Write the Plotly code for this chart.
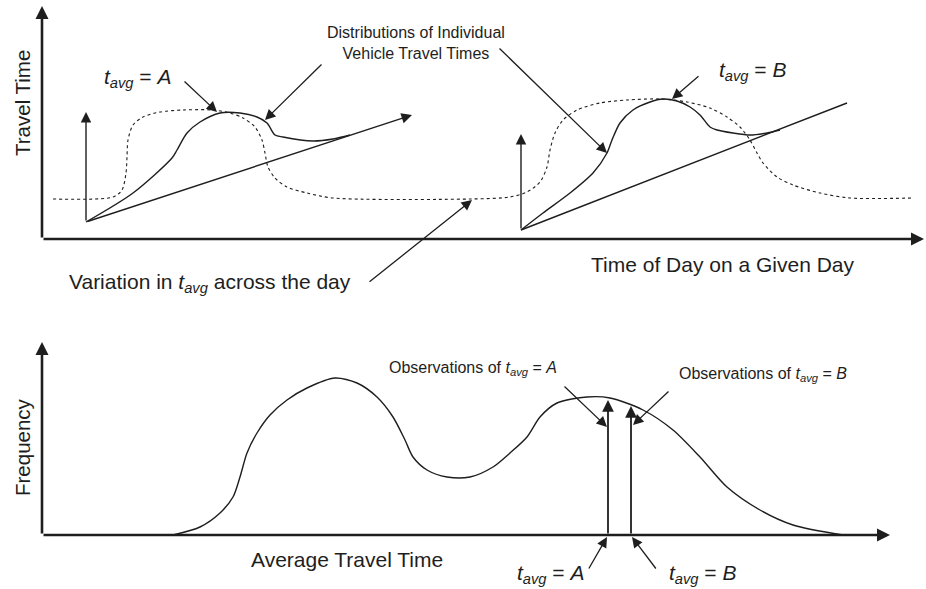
import plotly.graph_objects as go

# Everything is placed in page units: x runs 0..926 left to right, y runs 0..589 top to bottom.
INK = "#1e1e1e"
FONT = "Liberation Sans, Arial, sans-serif"

# ---- top panel: travel time across the day ----
# dotted curve: variation in t_avg across the day
tavg_day_x = [53, 113, 122, 126, 127, 128, 133, 143, 160, 183, 213, 230, 243, 255, 262, 265, 268, 275, 287,
              307, 333, 470, 510, 527, 540, 547, 550, 555, 563, 577, 600, 627, 660, 687, 710, 727, 740, 750,
              757, 763, 777, 793, 820, 850, 912]
tavg_day_y = [199, 197, 190, 173, 157, 140, 125, 117, 112, 110, 110, 113, 118, 127, 140, 153, 167, 178, 187,
              193, 198, 199, 197, 192, 182, 167, 150, 133, 120, 110, 103, 100, 99, 102, 108, 117, 127, 140,
              153, 163, 177, 185, 193, 198, 198]

# distribution of individual travel times at t_avg = A
dist_a_x = [86, 133, 172, 177, 187, 200, 220, 240, 257, 267, 275, 283, 313, 333, 350]
dist_a_y = [222, 193, 158, 150, 133, 122, 113, 113, 117, 123, 135, 137, 141, 139, 135]
dist_a_origin = (86, 222)
dist_a_up = (86, 112)
dist_a_axis = (412, 115)

# distribution of individual travel times at t_avg = B
dist_b_x = [521, 543, 570, 593, 607, 612, 620, 633, 650, 663, 677, 690, 700, 710, 717, 733, 750, 767, 780]
dist_b_y = [230, 213, 193, 173, 153, 140, 123, 110, 102, 99, 101, 107, 115, 127, 130, 133, 135, 133, 130]
dist_b_origin = (521, 230)
dist_b_up = (521, 134)
dist_b_axis = (847, 103)

# ---- bottom panel: frequency of average travel times ----
freq_x = [173, 200, 220, 233, 240, 247, 257, 270, 287, 307, 335, 357, 377, 393, 405, 413, 427, 447, 470,
          493, 510, 527, 540, 557, 587, 610, 643, 673, 700, 727, 760, 793, 843]
freq_y = [535, 527, 513, 497, 477, 453, 433, 415, 400, 388, 378, 383, 397, 417, 440, 457, 470, 477, 477,
          467, 453, 437, 417, 403, 397, 398, 410, 430, 457, 487, 510, 525, 535]
obs_a_x, obs_a_top = 608, 400
obs_b_x, obs_b_top = 631, 406

fig = go.Figure()

fig.add_trace(go.Scatter(x=tavg_day_x, y=tavg_day_y, mode="lines",
                         line=dict(color=INK, width=1.1, dash="dot", shape="spline", smoothing=0.8)))
for xs, ys in [(dist_a_x, dist_a_y), (dist_b_x, dist_b_y)]:
    fig.add_trace(go.Scatter(x=xs, y=ys, mode="lines",
                             line=dict(color=INK, width=1.4, shape="spline", smoothing=0.8)))
fig.add_trace(go.Scatter(x=[dist_b_origin[0], dist_b_axis[0]], y=[dist_b_origin[1], dist_b_axis[1]],
                         mode="lines", line=dict(color=INK, width=1.4)))
fig.add_trace(go.Scatter(x=freq_x, y=freq_y, mode="lines",
                         line=dict(color=INK, width=1.4, shape="spline", smoothing=0.8)))


def arrow(start, end, width=1.3, size=1.6, head=2):
    fig.add_annotation(x=end[0], y=end[1], ax=start[0], ay=start[1],
                       xref="x", yref="y", axref="x", ayref="y", text="",
                       showarrow=True, arrowhead=head, arrowsize=size, arrowwidth=width,
                       arrowcolor=INK, standoff=0)


# main axes
arrow((42, 239), (42, 6), width=2.6, size=1.0)
arrow((42, 239), (924, 239), width=2.6, size=1.0)
arrow((42, 535), (42, 342), width=2.6, size=1.0)
arrow((42, 535), (890, 535), width=2.6, size=1.0)

# small distribution axes
arrow(dist_a_origin, dist_a_up, width=1.4, size=1.5)
arrow(dist_a_origin, dist_a_axis, width=1.4, size=1.5)
arrow(dist_b_origin, dist_b_up, width=1.4, size=1.5)

# observations on the frequency axis
arrow((obs_a_x, 535), (obs_a_x, obs_a_top), width=1.8, size=1.3)
arrow((obs_b_x, 535), (obs_b_x, obs_b_top), width=1.8, size=1.3)

# callout arrows
arrow((183, 80), (217, 112))
arrow((323, 63), (265, 120))
arrow((498, 47), (607, 153))
arrow((700, 75), (672, 99))
arrow((368, 283), (472, 200))
arrow((563, 385), (607, 427))
arrow((670, 390), (633, 425))
arrow((588, 570), (607, 537))
arrow((657, 570), (632, 537))

TAVG = "<i>t</i><sub><i>avg</i></sub> = <i>{}</i>"


def label(x, y, text, size, xanchor="left", angle=0, align="left"):
    fig.add_annotation(x=x, y=y, xref="x", yref="y", text=text, showarrow=False,
                       xanchor=xanchor, yanchor="middle", textangle=angle, align=align,
                       font=dict(family=FONT, size=size, color=INK))


label(22, 103, "Travel Time", 20.5, xanchor="center", angle=-90)
label(22, 447, "Frequency", 20.5, xanchor="center", angle=-90)
label(722, 264, "Time of Day on a Given Day", 21, xanchor="center")
label(347, 559, "Average Travel Time", 21, xanchor="center")
label(67, 283, "Variation in " + "<i>t</i><sub><i>avg</i></sub>" + " across the day", 21)
label(416, 43, "Distributions of Individual<br>Vehicle Travel Times", 16, xanchor="center", align="center")
label(102, 78, TAVG.format("A"), 21)
label(717, 71, TAVG.format("B"), 21)
label(387, 368, "Observations of " + TAVG.format("A"), 16)
label(677, 374, "Observations of " + TAVG.format("B"), 16)
label(515, 574, TAVG.format("A"), 21)
label(667, 574, TAVG.format("B"), 21)

fig.update_layout(
    width=926, height=589,
    margin=dict(l=0, r=0, t=0, b=0),
    paper_bgcolor="white", plot_bgcolor="white",
    showlegend=False,
    xaxis=dict(range=[0, 926], visible=False, fixedrange=True),
    yaxis=dict(range=[589, 0], visible=False, fixedrange=True),
)

fig.write_html("out.html", config={"displayModeBar": False},
               post_script="document.body.style.margin='0';")
